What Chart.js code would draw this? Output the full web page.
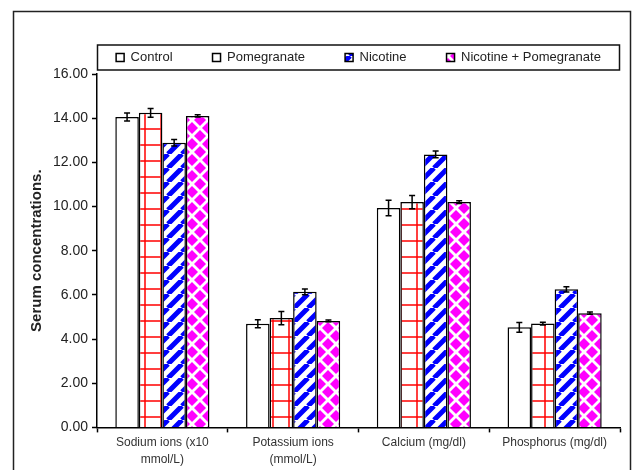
<!DOCTYPE html>
<html>
<head>
<meta charset="utf-8">
<script src="https://cdn.jsdelivr.net/npm/chart.js@4"></script>
<style>
  html, body { margin: 0; padding: 0; background: #fff; }
  #wrap { width: 634px; height: 470px; position: relative; }
</style>
</head>
<body>
<div id="wrap"><canvas id="serumChart"></canvas></div>
<script>
// --- DATA ---
const categories = [
  ["Sodium ions (x10", "mmol/L)"],
  ["Potassium ions", "(mmol/L)"],
  "Calcium (mg/dl)",
  "Phosphorus (mg/dl)"
];
const seriesNames = ["Control", "Pomegranate", "Nicotine", "Nicotine + Pomegranate"];
const control = [14.05, 4.69, 9.93, 4.53];
const pomegranate = [14.24, 4.95, 10.2, 4.7];
const nicotine = [12.89, 6.14, 12.36, 6.25];
const nicPom = [14.1, 4.82, 10.2, 5.17];
const controlErr = [0.18, 0.18, 0.35, 0.22];
const pomegranateErr = [0.2, 0.3, 0.3, 0.06];
const nicotineErr = [0.15, 0.13, 0.15, 0.12];
const nicPomErr = [0.05, 0.04, 0.06, 0.05];
const yTicks = [0, 2, 4, 6, 8, 10, 12, 14, 16];

// --- PATTERNS ---
function makePattern(size, draw) {
  const c = document.createElement("canvas");
  c.width = size;
  c.height = size;
  const g = c.getContext("2d");
  g.fillStyle = "#fff";
  g.fillRect(0, 0, size, size);
  draw(g, size);
  return document.createElement("canvas").getContext("2d").createPattern(c, "repeat");
}

const gridPattern = makePattern(16, (g, s) => {
  g.strokeStyle = "#ff0000";
  g.lineWidth = 1.5;
  g.beginPath();
  g.moveTo(0, 1); g.lineTo(s, 1);
  g.moveTo(1, 0); g.lineTo(1, s);
  g.stroke();
});

const stripePattern = makePattern(14, (g, s) => {
  g.strokeStyle = "#0000ff";
  g.lineWidth = 5;
  g.beginPath();
  for (let k = -1; k <= 1; k++) {
    g.moveTo(k * s, s);
    g.lineTo(k * s + s, 0);
  }
  g.stroke();
});

const diamondPattern = makePattern(16, (g, s) => {
  g.fillStyle = "#ff00ff";
  const r = 6;
  const centers = [[s / 2, s / 2], [0, 0], [s, 0], [0, s], [s, s]];
  centers.forEach(([cx, cy]) => {
    g.beginPath();
    g.moveTo(cx, cy - r);
    g.lineTo(cx + r, cy);
    g.lineTo(cx, cy + r);
    g.lineTo(cx - r, cy);
    g.closePath();
    g.fill();
  });
});

// --- PLUGINS ---
// outer frame, one-row legend and a box around it
const framePlugin = {
  id: "frame",
  beforeLayout(chart) {
    const lg = chart.legend;
    if (!lg || lg._oneRow) return;
    const origFit = lg.fit;
    lg.fit = function () {
      const mw = this.maxWidth;
      this.maxWidth = 2000;
      origFit.call(this);
      this.maxWidth = mw;
      this.width = mw;
    };
    // widen the box while drawing so the row does not wrap (centre stays the same)
    const origDraw = lg.draw;
    lg.draw = function () {
      const l = this.left, r = this.right;
      this.left = l - 300;
      this.right = r + 300;
      origDraw.call(this);
      this.left = l;
      this.right = r;
    };
    lg._oneRow = true;
  },
  beforeDraw(chart) {
    const ctx = chart.ctx;
    ctx.save();
    ctx.fillStyle = "#fff";
    ctx.fillRect(0, 0, chart.width, chart.height);
    ctx.strokeStyle = "#222";
    ctx.lineWidth = 1.5;
    ctx.strokeRect(13.5, 11.5, 617, 480);
    ctx.restore();
  },
  afterDraw(chart) {
    const lg = chart.legend;
    if (!lg) return;
    const ctx = chart.ctx;
    const mid = lg.top + lg.options.labels.padding + 6.5;
    ctx.save();
    ctx.strokeStyle = "#111";
    ctx.lineWidth = 1.5;
    ctx.strokeRect(lg.left + 0.5, mid - 12.5, lg.right - lg.left - 1, 25);
    ctx.restore();
  }
};

// error bars drawn from the y scale
const errorPlugin = {
  id: "errorBars",
  afterDatasetsDraw(chart) {
    const ctx = chart.ctx;
    const y = chart.scales.y;
    ctx.save();
    ctx.strokeStyle = "#000";
    ctx.lineWidth = 1.5;
    chart.data.datasets.forEach((ds, i) => {
      const meta = chart.getDatasetMeta(i);
      meta.data.forEach((bar, j) => {
        const v = ds.data[j];
        const e = ds.errors[j];
        const yTop = y.getPixelForValue(v + e);
        const yBot = y.getPixelForValue(v - e);
        ctx.beginPath();
        ctx.moveTo(bar.x, yTop); ctx.lineTo(bar.x, yBot);
        ctx.moveTo(bar.x - 3, yTop); ctx.lineTo(bar.x + 3, yTop);
        ctx.moveTo(bar.x - 3, yBot); ctx.lineTo(bar.x + 3, yBot);
        ctx.stroke();
      });
    });
    ctx.restore();
  }
};

function barSet(label, data, errors, fill) {
  return {
    label: label,
    data: data,
    errors: errors,
    backgroundColor: fill,
    borderColor: "#000",
    borderWidth: 1.5,
    borderSkipped: "start"
  };
}

Chart.defaults.font.family = "'Liberation Sans', Arial, sans-serif";
Chart.defaults.color = "#222";

new Chart(document.getElementById("serumChart"), {
  type: "bar",
  data: {
    labels: categories,
    datasets: [
      barSet(seriesNames[0], control, controlErr, "#fff"),
      barSet(seriesNames[1], pomegranate, pomegranateErr, gridPattern),
      barSet(seriesNames[2], nicotine, nicotineErr, stripePattern),
      barSet(seriesNames[3], nicPom, nicPomErr, diamondPattern)
    ]
  },
  options: {
    responsive: true,
    maintainAspectRatio: false,
    animation: false,
    layout: { padding: { top: 11, right: 14, bottom: 0, left: 13 } },
    datasets: {
      bar: { categoryPercentage: 0.72, barPercentage: 1 }
    },
    plugins: {
      tooltip: { enabled: false },
      legend: {
        position: "top",
        fullSize: false,
        labels: {
          boxWidth: 8,
          boxHeight: 8,
          padding: 40,
          font: { size: 13 },
          color: "#222"
        }
      }
    },
    scales: {
      x: {
        grid: {
          offset: true,
          drawOnChartArea: false,
          tickLength: 5,
          tickColor: "#000",
          tickWidth: 1.5
        },
        border: { color: "#000", width: 1.5 },
        ticks: {
          maxRotation: 0,
          autoSkip: false,
          padding: 2,
          font: { size: 12, lineHeight: 1.4 },
          color: "#333"
        }
      },
      y: {
        min: 0,
        max: 16,
        afterBuildTicks(scale) {
          scale.ticks = yTicks.map(v => ({ value: v }));
        },
        afterFit(scale) {
          scale.width = 84;
        },
        grid: {
          drawOnChartArea: false,
          tickLength: 5,
          tickColor: "#000",
          tickWidth: 1.5
        },
        border: { color: "#000", width: 1.5 },
        ticks: {
          padding: 4,
          font: { size: 14 },
          color: "#222",
          callback: v => Number(v).toFixed(2)
        },
        title: {
          display: true,
          text: "Serum concentrations.",
          font: { size: 15, weight: "bold" },
          color: "#222",
          padding: { top: 15, bottom: 0 }
        }
      }
    }
  },
  plugins: [framePlugin, errorPlugin]
});
</script>
</body>
</html>
